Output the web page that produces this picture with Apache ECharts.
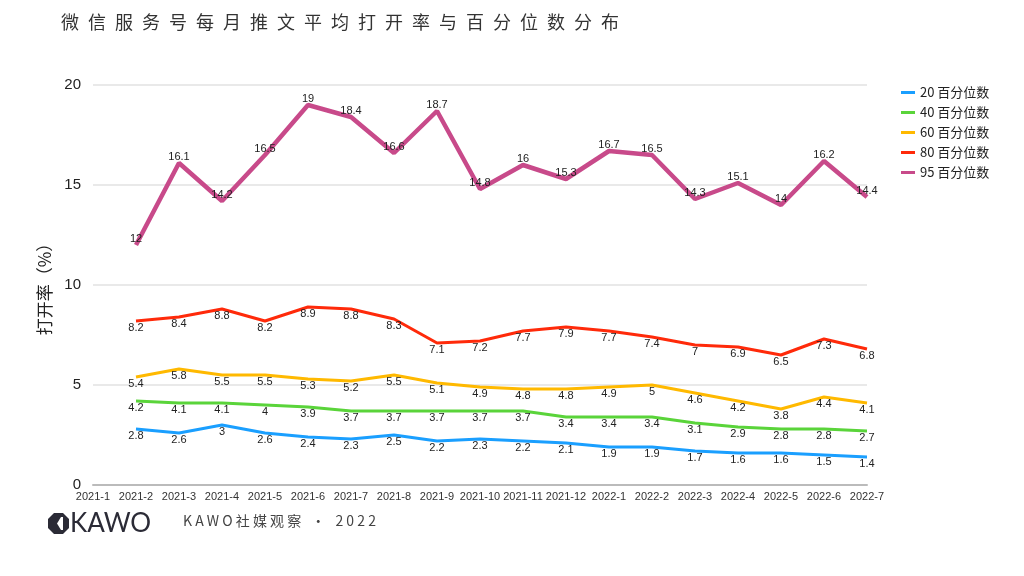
<!DOCTYPE html>
<html><head><meta charset="utf-8">
<script src="https://cdn.jsdelivr.net/npm/echarts@6/dist/echarts.min.js"></script>
<style>html,body{margin:0;padding:0;background:#fff}#c{width:1024px;height:576px}</style>
</head><body><div id="c"></div>
<script>
const categories = ['2021-1','2021-2','2021-3','2021-4','2021-5','2021-6','2021-7','2021-8','2021-9','2021-10','2021-11','2021-12','2022-1','2022-2','2022-3','2022-4','2022-5','2022-6','2022-7'];
const p20 = [null,2.8,2.6,3,2.6,2.4,2.3,2.5,2.2,2.3,2.2,2.1,1.9,1.9,1.7,1.6,1.6,1.5,1.4];
const p40 = [null,4.2,4.1,4.1,4,3.9,3.7,3.7,3.7,3.7,3.7,3.4,3.4,3.4,3.1,2.9,2.8,2.8,2.7];
const p60 = [null,5.4,5.8,5.5,5.5,5.3,5.2,5.5,5.1,4.9,4.8,4.8,4.9,5,4.6,4.2,3.8,4.4,4.1];
const p80 = [null,8.2,8.4,8.8,8.2,8.9,8.8,8.3,7.1,7.2,7.7,7.9,7.7,7.4,7,6.9,6.5,7.3,6.8];
const p95 = [null,12,16.1,14.2,16.5,19,18.4,16.6,18.7,14.8,16,15.3,16.7,16.5,14.3,15.1,14,16.2,14.4];
const seriesNames = ['20 百分位数','40 百分位数','60 百分位数','80 百分位数','95 百分位数'];
const yTicks = {min:0, max:20, interval:5};
const titleText = '微信服务号每月推文平均打开率与百分位数分布';
const footerText = 'KAWO社媒观察 • 2022';

const colors = ['#1a9fff','#5ad43a','#ffb900','#ff2a0a','#c84a8a'];
const font = '"Noto Sans CJK SC","Noto Sans",sans-serif';
const labelFont = 'Liberation Sans, Arial, sans-serif';
const spaced = (s, sep) => Array.from(s).join(sep);

function mk(name, data, color, width, pos){
  return {
    name, type:'line', data, symbol:'circle', symbolSize:0, showSymbol:true,
    lineStyle:{color, width}, itemStyle:{color},
    label:{show:true, position:pos, distance:1, fontSize:11, color:'#222', fontFamily:labelFont},
    emphasis:{disabled:true}, animation:false
  };
}

const chart = echarts.init(document.getElementById('c'));
chart.setOption({
  animation:false,
  color: colors,
  title:{text:spaced(titleText, '\u2002'), left:56, top:8,
    textStyle:{fontSize:18, fontWeight:'normal', color:'#333', fontFamily:font}},
  legend:{orient:'vertical', left:896, top:81, itemWidth:14, itemHeight:3, itemGap:7, icon:'rect',
    textStyle:{fontSize:13, color:'#222', fontFamily:font}, data:seriesNames},
  grid:{left:93, right:157, top:85, bottom:91, containLabel:false},
  xAxis:{type:'category', data:categories, boundaryGap:false,
    axisLine:{lineStyle:{color:'#bbb', width:2}}, axisTick:{show:false},
    axisLabel:{interval:0, fontSize:11, color:'#333', margin:6, fontFamily:labelFont}},
  yAxis:{type:'value', min:yTicks.min, max:yTicks.max, interval:yTicks.interval,
    name:'打开率（%）', nameLocation:'middle', nameRotate:90, nameGap:40,
    nameTextStyle:{fontSize:17, color:'#222', fontFamily:font},
    axisLine:{show:false}, axisTick:{show:false},
    axisLabel:{fontSize:15, color:'#222', margin:12, fontFamily:labelFont},
    splitLine:{lineStyle:{color:'#e2e2e2', width:1.5}}},
  series:[
    mk(seriesNames[0], p20, colors[0], 3, 'bottom'),
    mk(seriesNames[1], p40, colors[1], 3, 'bottom'),
    mk(seriesNames[2], p60, colors[2], 3, 'bottom'),
    mk(seriesNames[3], p80, colors[3], 3, 'bottom'),
    mk(seriesNames[4], p95, colors[4], 4.5, 'top')
  ],
  graphic:[
    {type:'group', left:48, top:513, children:[
      {type:'polygon', shape:{points:[[6,0],[15,0],[21,6],[21,15],[15,21],[6,21],[0,15],[0,6]]}, style:{fill:'#2b2b36'}},
      {type:'polygon', shape:{points:[[13,4],[9,10.5],[13,17],[15,17],[15,4]]}, style:{fill:'#fff'}}
    ]},
    {type:'text', left:70, top:511, style:{text:'KAWO', fontSize:26, fontFamily:'Lato, sans-serif', fontWeight:400, fill:'#2b2b36'}},
    {type:'text', left:183, top:514, style:{text:spaced(footerText.replace(/ /g,''), ' ').replace(' • ', ' \u2002•\u2002 '), fontSize:14, fontFamily:font, fill:'#444'}}
  ]
});
</script></body></html>
